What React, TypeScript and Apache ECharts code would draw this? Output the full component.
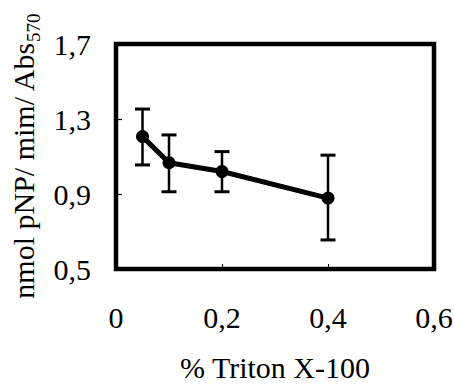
import React, { useEffect, useRef } from "react";
import * as echarts from "echarts";

const xValues = [0.05, 0.1, 0.2, 0.4];
const meanValues = [1.206, 1.067, 1.02, 0.878];
const errLow = [1.055, 0.912, 0.912, 0.655];
const errHigh = [1.353, 1.215, 1.126, 1.107];
const xTickLabels = ["0", "0,2", "0,4", "0,6"];
const yTickLabels = ["0,5", "0,9", "1,3", "1,7"];
const xTitle = "% Triton X-100";
const yTitleMain = "nmol pNP/ mim/ Abs";
const yTitleSub = "570";

const FONT = "'Liberation Serif', 'Times New Roman', serif";

export default function App() {
  const ref = useRef<HTMLDivElement>(null);
  useEffect(() => {
    if (!ref.current) return;
    const chart = echarts.init(ref.current, null, { renderer: "svg" });
    const errData = xValues.map((x, i) => [x, errLow[i], errHigh[i]]);
    const lineData = xValues.map((x, i) => [x, meanValues[i]]);
    chart.setOption({
      animation: false,
      backgroundColor: "#ffffff",
      grid: {
        left: 116,
        right: 20,
        top: 44,
        bottom: 117,
        show: true,
        outerBoundsMode: "none",
        containLabel: false,
        borderColor: "#000",
        borderWidth: 4.5,
        backgroundColor: "transparent",
      },
      xAxis: {
        type: "value",
        min: 0,
        max: 0.6,
        interval: 0.2,
        axisLine: { show: false },
        splitLine: { show: false },
        axisTick: { show: true, inside: true, length: 5, lineStyle: { color: "#000", width: 1 } },
        axisLabel: {
          margin: 33,
          color: "#000",
          fontFamily: FONT,
          fontSize: 30,
          formatter: (_v: number, i: number) => xTickLabels[i],
        },
        name: xTitle,
        nameLocation: "middle",
        nameGap: 83,
        nameTextStyle: { color: "#000", fontFamily: FONT, fontSize: 30 },
      },
      yAxis: {
        type: "value",
        min: 0.5,
        max: 1.7,
        interval: 0.4,
        axisLine: { show: false },
        splitLine: { show: false },
        axisTick: { show: true, inside: true, length: 6, lineStyle: { color: "#000", width: 1.2 } },
        axisLabel: {
          margin: 25,
          color: "#000",
          fontFamily: FONT,
          fontSize: 30,
          formatter: (_v: number, i: number) => yTickLabels[i],
        },
        name: `{m|${yTitleMain}}{s|${yTitleSub}}`,
        nameLocation: "middle",
        nameRotate: 90,
        nameGap: 72,
        nameTextStyle: {
          color: "#000",
          fontFamily: FONT,
          rich: {
            m: { fontFamily: FONT, fontSize: 30, color: "#000", lineHeight: 38 },
            s: { fontFamily: FONT, fontSize: 19, color: "#000", lineHeight: 12, verticalAlign: "bottom" },
          },
        },
      },
      series: [
        {
          type: "custom",
          data: errData,
          z: 1,
          renderItem: (_p: any, api: any) => {
            const x = api.value(0);
            const lo = api.coord([x, api.value(1)]);
            const hi = api.coord([x, api.value(2)]);
            const hw = 7.5;
            const st = { stroke: "#000", lineWidth: 2.5 };
            return {
              type: "group",
              children: [
                { type: "line", shape: { x1: hi[0], y1: hi[1], x2: lo[0], y2: lo[1] }, style: st },
                { type: "line", shape: { x1: hi[0] - hw, y1: hi[1], x2: hi[0] + hw, y2: hi[1] }, style: { stroke: "#000", lineWidth: 3 } },
                { type: "line", shape: { x1: lo[0] - hw, y1: lo[1], x2: lo[0] + hw, y2: lo[1] }, style: { stroke: "#000", lineWidth: 3 } },
              ],
            };
          },
        },
        {
          type: "line",
          data: lineData,
          z: 2,
          symbol: "circle",
          symbolSize: 13,
          lineStyle: { color: "#000", width: 5 },
          itemStyle: { color: "#000" },
        },
      ],
    });
    return () => chart.dispose();
  }, []);
  return (
    <div
      ref={ref}
      style={{ position: "fixed", left: 0, top: 0, width: 454, height: 386, background: "#fff" }}
    />
  );
}
